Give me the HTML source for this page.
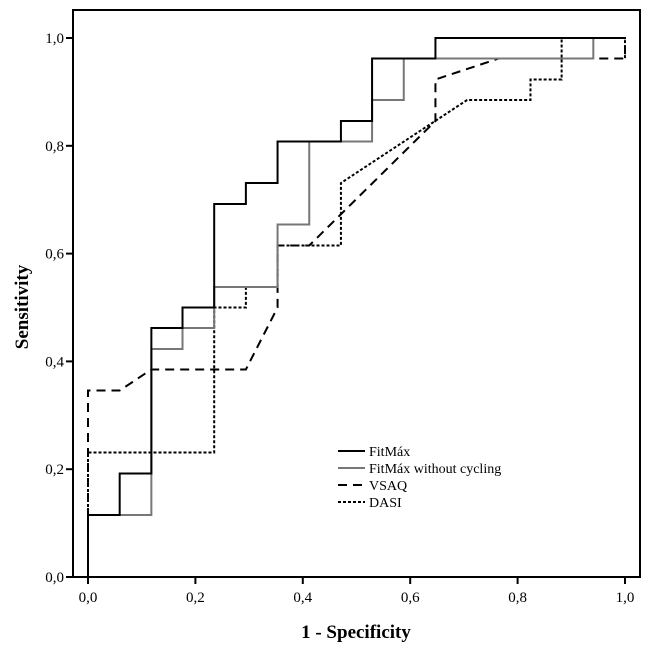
<!DOCTYPE html>
<html><head><meta charset="utf-8"><style>
body{margin:0;background:#fff}
svg text{font-family:"Liberation Serif",serif}
</style></head><body>
<svg width="649" height="645" id="chart">
<rect x="73" y="10" width="567" height="567" fill="none" stroke="#000" stroke-width="2"/>
<g id="axes"></g><g id="series"></g>
<text x="356" y="638" text-anchor="middle" font-size="19" font-weight="bold">1 - Specificity</text>
<text transform="translate(28,307) rotate(-90)" text-anchor="middle" font-size="19" font-weight="bold">Sensitivity</text>
<g id="legend"></g>
</svg>
<script>
const ticks=[0,0.2,0.4,0.6,0.8,1.0];
const tickLabels=["0,0","0,2","0,4","0,6","0,8","1,0"];
const seriesNames=["FitMáx","FitMáx without cycling","VSAQ","DASI"];
const fitmaxX=[0,0,0.059,0.059,0.118,0.118,0.176,0.176,0.235,0.235,0.294,0.294,0.353,0.353,0.471,0.471,0.529,0.529,0.647,0.647,1];
const fitmaxY=[0,0.115,0.115,0.192,0.192,0.462,0.462,0.5,0.5,0.692,0.692,0.731,0.731,0.808,0.808,0.846,0.846,0.962,0.962,1,1];
const noCycX=[0,0,0.118,0.118,0.176,0.176,0.235,0.235,0.353,0.353,0.412,0.412,0.529,0.529,0.588,0.588,0.941,0.941,1];
const noCycY=[0,0.115,0.115,0.423,0.423,0.462,0.462,0.538,0.538,0.654,0.654,0.808,0.808,0.885,0.885,0.962,0.962,1,1];
const vsaqX=[0,0,0.059,0.118,0.294,0.353,0.353,0.412,0.647,0.647,0.765,1,1];
const vsaqY=[0,0.346,0.346,0.385,0.385,0.5,0.615,0.615,0.846,0.923,0.962,0.962,1];
const dasiX=[0,0,0.235,0.235,0.294,0.294,0.353,0.353,0.471,0.471,0.706,0.824,0.824,0.882,0.882,1,1];
const dasiY=[0,0.231,0.231,0.5,0.5,0.538,0.538,0.615,0.615,0.731,0.885,0.885,0.923,0.923,1,1,0.962];
const NS="http://www.w3.org/2000/svg";
const sx=v=>88+v*537, sy=v=>577-v*539;
const axes=document.getElementById('axes');
function mk(t,a,p){const e=document.createElementNS(NS,t);for(const k in a)e.setAttribute(k,a[k]);p.appendChild(e);return e;}
ticks.forEach((t,i)=>{
 let l=mk('line',{x1:sx(t),x2:sx(t),y1:577,y2:584,stroke:'#000','stroke-width':2},axes);
 
 
 let tx=mk('text',{x:sx(t),y:602,'text-anchor':'middle','font-size':15},axes);tx.textContent=tickLabels[i];
 
 
 let l2=mk('line',{x1:66,x2:73,y1:sy(t),y2:sy(t),stroke:'#000','stroke-width':2},axes);
 
 
 let ty=mk('text',{x:64,y:sy(t)+5,'text-anchor':'end','font-size':15},axes);ty.textContent=tickLabels[i];
 
 
});
const styles=[{stroke:'#000',w:2,d:''},{stroke:'#777',w:2,d:''},{stroke:'#000',w:2,d:'9,6'},{stroke:'#000',w:2,d:'3,2'}];
const data=[[fitmaxX,fitmaxY],[noCycX,noCycY],[vsaqX,vsaqY],[dasiX,dasiY]];
const sg=document.getElementById('series');
const order=[2,3,1,0];
order.forEach(i=>{
 const [xs,ys]=data[i];
 const pts=xs.map((x,j)=>sx(x)+','+sy(ys[j])).join(' ');
 const p=mk('polyline',{points:pts,fill:'none',stroke:styles[i].stroke,'stroke-width':styles[i].w,'stroke-dasharray':styles[i].d},sg);
 
 
});
const lg=document.getElementById('legend');
seriesNames.forEach((n,i)=>{
 const y=455+i*17;
 const l=mk('line',{x1:338,x2:365,y1:y-4,y2:y-4,stroke:styles[i].stroke,'stroke-width':2,'stroke-dasharray':styles[i].d},lg);
 
 
 const t=mk('text',{x:369,y:y+1,'font-size':14},lg);t.textContent=n;
 
 
});
</script>
</body></html>
